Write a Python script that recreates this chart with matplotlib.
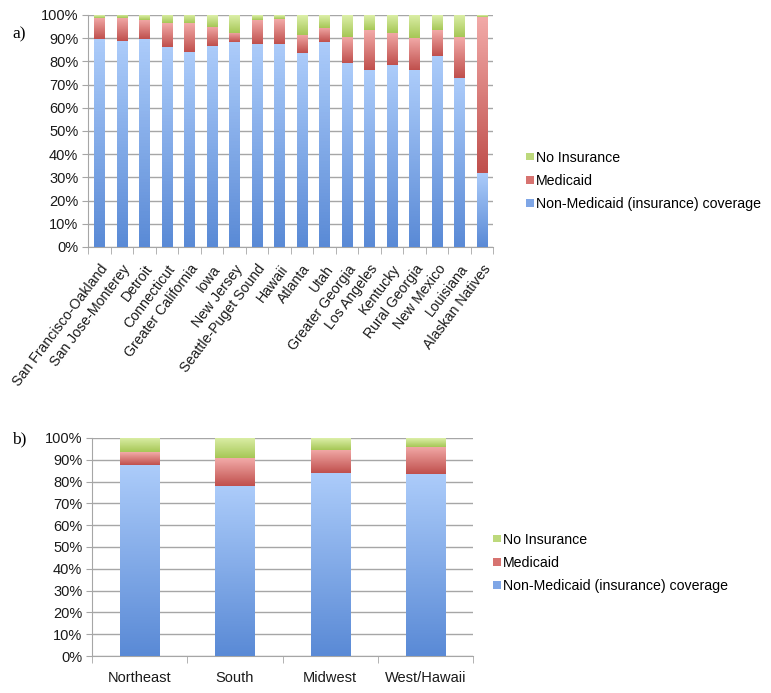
import numpy as np
import matplotlib
matplotlib.use("Agg")
import matplotlib.pyplot as plt
from matplotlib.colors import LinearSegmentedColormap
from matplotlib.patches import Patch
from matplotlib.ticker import FuncFormatter
from matplotlib.transforms import ScaledTranslation

plt.rcParams['font.family'] = ['Liberation Sans', 'DejaVu Sans']

# a) registries
sites = ["San Francisco-Oakland", "San Jose-Monterey", "Detroit", "Connecticut",
         "Greater California", "Iowa", "New Jersey", "Seattle-Puget Sound", "Hawaii",
         "Atlanta", "Utah", "Greater Georgia", "Los Angeles", "Kentucky",
         "Rural Georgia", "New Mexico", "Louisiana", "Alaskan Natives"]
site_non_medicaid = [89.6, 88.6, 89.6, 86.4, 84.0, 86.7, 88.3, 87.4, 87.7,
                     83.6, 88.3, 79.3, 76.4, 78.3, 76.1, 82.4, 72.9, 31.9]
site_medicaid = [9.3, 10.0, 8.3, 10.0, 12.4, 8.3, 4.1, 10.5, 10.6,
                 7.8, 6.3, 11.4, 17.2, 13.8, 13.9, 11.2, 17.5, 67.4]
site_no_insurance = [1.1, 1.4, 2.1, 3.6, 3.6, 5.0, 7.6, 2.1, 1.7,
                     8.6, 5.4, 9.3, 6.4, 7.9, 10.0, 6.4, 9.6, 0.7]

# b) regions
regions = ["Northeast", "South", "Midwest", "West/Hawaii"]
reg_non_medicaid = [87.7, 78.0, 84.1, 83.6]
reg_medicaid = [5.8, 12.8, 10.6, 12.5]
reg_no_insurance = [6.5, 9.2, 5.3, 3.9]

series_labels = ["Non-Medicaid (insurance) coverage", "Medicaid", "No Insurance"]
# (bottom colour, top colour) for the gradient fills
grad_colors = [("#5a8ad6", "#acccfa"), ("#c0504d", "#f2aaa8"), ("#a6c756", "#dcefa8")]
legend_colors = ["#7fa6e6", "#d77370", "#bdd97c"]
grid_col = "#a6a6a6"
fs = 10.5


def gradient_bar(ax, x, bottom, height, width, cols):
    rect = ax.bar(x, height, width, bottom=bottom, color=cols[0], linewidth=0, zorder=2)[0]
    cmap = LinearSegmentedColormap.from_list("g", [cols[0], cols[1]])
    grad = np.linspace(0, 1, 64).reshape(-1, 1)
    im = ax.imshow(grad, cmap=cmap, origin="lower", aspect="auto", zorder=3,
                   extent=[x - width / 2, x + width / 2, bottom, bottom + height])
    im.set_clip_path(rect)


def stacked(ax, names, series, width):
    n = len(names)
    for i in range(n):
        base = 0
        for s, vals in enumerate(series):
            gradient_bar(ax, i, base, vals[i], width, grad_colors[s])
            base += vals[i]
    ax.set_xlim(-0.5, n - 0.5)
    ax.set_ylim(0, 100)
    ax.set_yticks(np.arange(0, 101, 10))
    ax.yaxis.set_major_formatter(FuncFormatter(lambda v, p: "%d%%" % v))
    ax.yaxis.grid(True, color=grid_col, linewidth=1)
    ax.set_axisbelow(True)
    for sp in ["top", "right"]:
        ax.spines[sp].set_visible(False)
    for sp in ["left", "bottom"]:
        ax.spines[sp].set_color(grid_col)
    ax.tick_params(axis="y", length=4, color=grid_col, labelsize=fs, labelcolor="#1a1a1a", pad=3)
    # category boundaries carry the tick marks
    ax.set_xticks(np.arange(-0.5, n, 1.0), minor=True)
    ax.tick_params(axis="x", which="minor", length=5, color=grid_col)
    ax.set_xticks(np.arange(n))
    ax.tick_params(axis="x", which="major", length=0, labelsize=fs, labelcolor="#1a1a1a")


fig = plt.figure(figsize=(7.71, 6.93), dpi=100)

ax1 = fig.add_axes([88 / 771, 1 - 247 / 693, 405 / 771, 232 / 693])
stacked(ax1, sites, [site_non_medicaid, site_medicaid, site_no_insurance], 0.45)
ax1.set_xticklabels(sites, rotation=53, ha="right", va="center", rotation_mode="anchor",
                    fontsize=10.2)
ax1.tick_params(axis="x", which="major", pad=14)
shift = ScaledTranslation(6 / 100, 0, fig.dpi_scale_trans)
for lab in ax1.get_xticklabels():
    lab.set_transform(lab.get_transform() + shift)

ax2 = fig.add_axes([92 / 771, 1 - 656 / 693, 381 / 771, 218 / 693])
stacked(ax2, regions, [reg_non_medicaid, reg_medicaid, reg_no_insurance], 0.41)
ax2.set_xticklabels(regions)
ax2.tick_params(axis="x", which="major", pad=11)

handles = [Patch(facecolor=legend_colors[i], label=series_labels[i]) for i in [2, 1, 0]]
for y, xh in [(181, 526), (563, 493)]:
    fig.legend(handles=handles, loc="center left", bbox_to_anchor=(xh / 771, 1 - y / 693),
               frameon=False, fontsize=10.2, handlelength=0.55, handleheight=0.45,
               handletextpad=0.15, labelspacing=0.66, borderpad=0, borderaxespad=0)

fig.text(12 / 771, 1 - 34 / 693, "a)", family="Liberation Serif", fontsize=12.5, va="center")
fig.text(12 / 771, 1 - 439 / 693, "b)", family="Liberation Serif", fontsize=12.5, va="center")

fig.savefig("out.png", dpi=100)
